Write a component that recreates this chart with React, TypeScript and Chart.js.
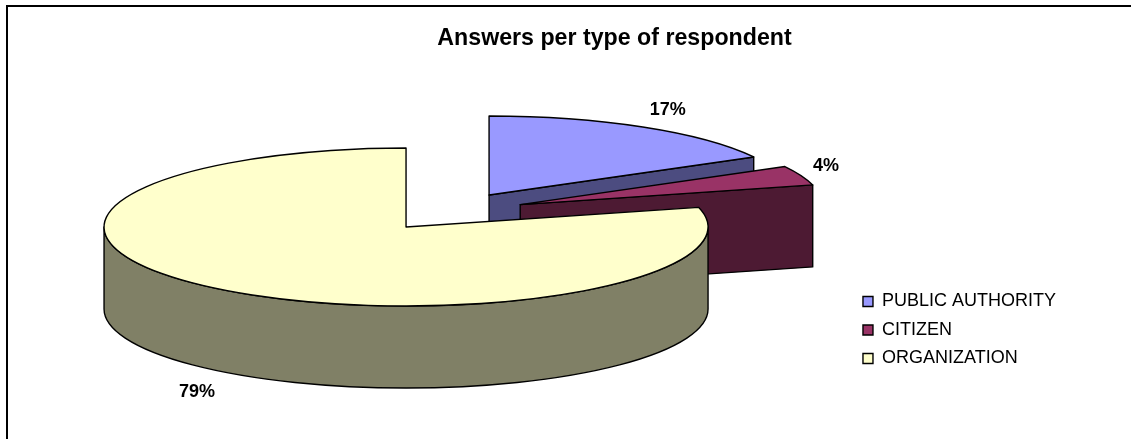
import React, { useEffect, useRef } from "react";
import { Chart, registerables } from "chart.js";

Chart.register(...registerables);

const categories = ["PUBLIC AUTHORITY", "CITIZEN", "ORGANIZATION"];
const percentages = [17, 4, 79];
const topColors = ["#9999FF", "#993366", "#FFFFCC"];
const sideColors = ["#4C4C80", "#4D1A33", "#808066"];
const titleText = "Answers per type of respondent";

const FONT = "'Liberation Sans', Arial, sans-serif";
const WIDTH = 1131;
const HEIGHT = 439;

// 3-D projection of the pie
const TILT = 0.2616;
const DEPTH = 82;
const EXPLODE = 74;
const CENTER_X = 451.4;
const CENTER_Y = 211.7;
const RADIUS = 302;
// label shift from the rim point at the middle of each slice
const labelShift: [number, number][] = [
  [25, -17],
  [25, -9],
  [-24, 21],
];

const pie3d = {
  id: "pie3d",
  beforeDraw(chart: any) {
    const ctx = chart.ctx;
    ctx.save();
    ctx.fillStyle = "#FFFFFF";
    ctx.fillRect(0, 0, WIDTH, HEIGHT);
    ctx.strokeStyle = "#000000";
    ctx.lineWidth = 2;
    ctx.beginPath();
    ctx.moveTo(7, HEIGHT);
    ctx.lineTo(7, 6);
    ctx.lineTo(WIDTH, 6);
    ctx.stroke();
    ctx.restore();
  },
  beforeDatasetDraw(chart: any) {
    const ctx = chart.ctx;
    const arcs = chart.getDatasetMeta(0).data;
    const apex = (a: any) => {
      const mid = (a.startAngle + a.endAngle) / 2;
      return {
        x: CENTER_X + EXPLODE * Math.cos(mid),
        y: CENTER_Y + EXPLODE * TILT * Math.sin(mid),
      };
    };
    const rim = (p: any, r: number, ang: number) => ({
      x: p.x + r * Math.cos(ang),
      y: p.y + r * TILT * Math.sin(ang),
    });
    ctx.save();
    ctx.lineWidth = 1.4;
    ctx.lineJoin = "round";
    ctx.strokeStyle = "#000000";
    arcs.forEach((a: any, i: number) => {
      const p = apex(a);
      const r = a.outerRadius;
      ctx.fillStyle = sideColors[i];
      const radial = (ang: number) => {
        const e = rim(p, r, ang);
        ctx.beginPath();
        ctx.moveTo(p.x, p.y);
        ctx.lineTo(e.x, e.y);
        ctx.lineTo(e.x, e.y + DEPTH);
        ctx.lineTo(p.x, p.y + DEPTH);
        ctx.closePath();
        ctx.fill();
        ctx.stroke();
      };
      if (Math.sin(a.startAngle - Math.PI / 2) > 1e-6) radial(a.startAngle);
      if (Math.sin(a.endAngle + Math.PI / 2) > 1e-6) radial(a.endAngle);
      const from = Math.max(a.startAngle, 0);
      const to = Math.min(a.endAngle, Math.PI);
      if (to > from) {
        ctx.beginPath();
        ctx.ellipse(p.x, p.y, r, r * TILT, 0, from, to);
        ctx.ellipse(p.x, p.y + DEPTH, r, r * TILT, 0, to, from, true);
        ctx.closePath();
        ctx.fill();
        ctx.stroke();
      }
    });
    arcs.forEach((a: any) => {
      const p = apex(a);
      ctx.save();
      ctx.translate(p.x, p.y);
      ctx.scale(1, TILT);
      ctx.translate(-a.x, -a.y);
      a.draw(ctx);
      ctx.restore();
      ctx.beginPath();
      ctx.moveTo(p.x, p.y);
      ctx.ellipse(p.x, p.y, a.outerRadius, a.outerRadius * TILT, 0, a.startAngle, a.endAngle);
      ctx.closePath();
      ctx.stroke();
    });
    ctx.font = `bold 18px ${FONT}`;
    ctx.fillStyle = "#000000";
    ctx.textAlign = "center";
    ctx.textBaseline = "middle";
    arcs.forEach((a: any, i: number) => {
      const p = apex(a);
      const mid = (a.startAngle + a.endAngle) / 2;
      const e = rim(p, a.outerRadius, mid);
      const down = Math.sin(mid) > 0 ? DEPTH : 0;
      ctx.fillText(`${percentages[i]}%`, e.x + labelShift[i][0], e.y + down + labelShift[i][1]);
    });
    ctx.restore();
    return false;
  },
};

export default function App() {
  const ref = useRef<HTMLCanvasElement>(null);
  useEffect(() => {
    const chart = new Chart(ref.current as HTMLCanvasElement, {
      type: "pie",
      data: {
        labels: categories,
        datasets: [
          {
            data: percentages,
            backgroundColor: topColors,
            borderWidth: 0,
          },
        ],
      },
      options: {
        animation: false,
        responsive: false,
        radius: RADIUS,
        events: [],
        layout: { padding: { left: 163, right: 65, top: 20, bottom: 61 } },
        plugins: {
          title: {
            display: true,
            text: titleText,
            color: "#000000",
            font: { family: FONT, size: 23.2, weight: "bold" },
            padding: { top: 5, bottom: 4 },
          },
          tooltip: { enabled: false },
          legend: {
            display: true,
            position: "right",
            align: "end",
            labels: {
              color: "#000000",
              font: { family: FONT, size: 18 },
              boxWidth: 10,
              boxHeight: 10,
              padding: 10.5,
              generateLabels: () =>
                categories.map((text, i) => ({
                  text,
                  fillStyle: topColors[i],
                  strokeStyle: "#000000",
                  lineWidth: 1.4,
                  hidden: false,
                  index: i,
                })),
            },
          },
        },
      } as any,
      plugins: [pie3d],
    });
    return () => chart.destroy();
  }, []);
  return (
    <canvas
      ref={ref}
      width={WIDTH}
      height={HEIGHT}
      style={{ position: "fixed", left: 0, top: 0, display: "block" }}
    />
  );
}
